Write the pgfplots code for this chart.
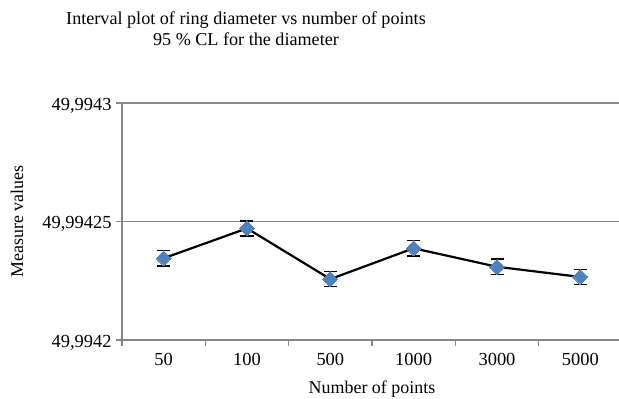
\documentclass[border=0pt]{standalone}
\usepackage{pgfplots}
\pgfplotsset{compat=1.18}
\usepackage{fontspec}
\setmainfont{Liberation Serif}
\definecolor{gridgray}{HTML}{868686}
\definecolor{xlblue}{HTML}{4F81BD}
% y values are given in units of 1e-6 above 49.9942 (e.g. 34.5 -> 49.9942345)
\begin{document}
\begin{tikzpicture}
\begin{axis}[name=ax, at={(0,0)}, anchor=south west,
  scale only axis, width=500bp, height=237bp,
  xmin=-0.5, xmax=5.5, ymin=0, ymax=100,
  axis x line*=bottom, axis y line*=left,
  axis line style={gridgray, line width=1.2bp},
  xtick={0,...,5}, xticklabels={50,100,500,1000,3000,5000},
  minor xtick={-0.5,0.5,...,5.5},
  major x tick style={draw=none},
  minor x tick style={gridgray, line width=1.2bp},
  ytick={0,50,100}, yticklabels={{49,9942},{49,99425},{49,9943}},
  y tick style={gridgray, line width=1.2bp},
  tick align=outside, major tick length=6bp, minor tick length=6bp,
  ymajorgrids, grid style={gridgray, line width=1.2bp},
  tick label style={font=\fontsize{18.5}{22}\selectfont},
  xticklabel style={yshift=-4bp},
  yticklabel style={yshift=-2.5bp, xshift=-1bp},
  /pgf/number format/assume math mode=true,
  xlabel={Number of points}, ylabel={Measure values},
  label style={font=\fontsize{18}{22}\selectfont},
  xlabel style={at={(axis description cs:0.5,0)}, anchor=center, yshift=-49bp},
  ylabel style={at={(axis description cs:-0.21,0.5)}, anchor=center},
  title={Interval plot of ring diameter vs number of points\\95 \% CL for the diameter},
  title style={align=center, font=\fontsize{18.2}{21}\selectfont, at={(axis description cs:0,1)}, anchor=center, xshift=124bp, yshift=68bp},
  clip=false,
]
\addplot[black, line width=2.2bp, mark=square*, mark size=5.3bp,
  mark options={rotate=45, draw=xlblue, fill=xlblue, line width=0pt},
  error bars/.cd, y dir=both, y explicit,
  error bar style={black, line width=1.6bp},
  error mark options={rotate=90, black, mark size=6.5bp, line width=1.6bp}]
coordinates {
  (0,34.5) +- (0,3.2)
  (1,47.1) +- (0,3.2)
  (2,25.7) +- (0,3.2)
  (3,38.7) +- (0,3.3)
  (4,30.9) +- (0,3.2)
  (5,26.6) +- (0,3.2)
};
\end{axis}
\pgfresetboundingbox
\path (ax.south west) ++(-122bp,-59bp) rectangle ++(619bp,399bp);
\end{tikzpicture}
\end{document}
